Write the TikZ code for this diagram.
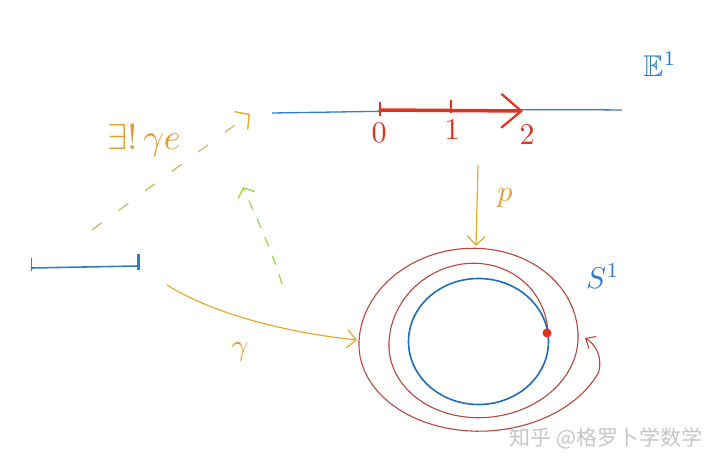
\documentclass[tikz,border=0pt]{standalone}
\usepackage{amsmath,amssymb}
\usepackage{xcolor}
\usepackage{fontspec}
\newfontfamily\cjkfont{Noto Sans CJK SC}
\usepackage{tikz}
\usetikzlibrary{arrows.meta}
\definecolor{lineblue}{HTML}{2F7DCB}
\definecolor{circblue}{HTML}{1F6DB8}
\definecolor{liftred}{HTML}{E3311F}
\definecolor{loopred}{HTML}{B8463C}
\definecolor{amber}{HTML}{E9A92A}
\definecolor{ochre}{HTML}{E59B32}
\definecolor{olive}{HTML}{CDBB62}
\definecolor{lime}{HTML}{9ED64C}
\definecolor{wmgray}{HTML}{C6C6C6}
\tikzset{
  eline/.style={draw=lineblue, line width=1.3pt},
  seg/.style={draw=lineblue, line width=1.6pt},
  lift/.style={draw=liftred, line width=3.5pt, line cap=round},
  notch/.style={draw=liftred, line width=2.4pt},
  spiral/.style={draw=loopred, line width=1.1pt},
  circ/.style={draw=circblue, line width=1.6pt},
  maparrow/.style={draw=amber, line width=1.2pt, -{Straight Barb[length=9pt,width=18pt]}},
  guess/.style={draw=olive, line width=1.3pt, dash pattern=on 12pt off 21pt},
  hint/.style={draw=lime, line width=1.3pt, dash pattern=on 10pt off 10pt},
  num/.style={text=liftred, scale=3},
  lbl/.style={text=ochre, scale=3},
  blbl/.style={text=lineblue, scale=3},
  wmark/.style={text=wmgray, font=\fontsize{21}{21}\selectfont\cjkfont},
  dot/.style={circle, fill=liftred, inner sep=0pt, minimum size=9pt}
}

\begin{document}
\begin{tikzpicture}[x=1pt, y=-1pt]
    \useasboundingbox (0,0) rectangle (720,468);

    % --- TOP: the line E^1 and the lifted path ---
    \coordinate (eW) at (272,113);
    \coordinate (eE) at (622,110);
    \draw[eline] (eW) .. controls (400,111) and (520,109) .. (eE);

    \coordinate (zero) at (380,110);
    \coordinate (one) at (451,110);
    \coordinate (two) at (523,111);
    \draw[notch] (zero) ++(0,-8) -- ++(0,14);
    \draw[notch] (one) ++(0,-10) -- ++(0,13);
    \draw[lift, -{Straight Barb[length=20pt,width=34pt,line width=2.2pt]}] (zero) -- (two);
    \node[num] (n0) at (379,133) {0};
    \node[num] (n1) at (452,130) {1};
    \node[num] (n2) at (527,135) {2};
    \node[blbl] (E) at (660,64) {$\mathbb{E}^1$};

    % --- CIRCLE S^1 and the winding loop ---
    \draw[circ] (478.5,341.5) ellipse [x radius=70pt, y radius=63pt];
    \coordinate (loopend) at (585,338);
    \draw[spiral, -{Straight Barb[length=8pt,width=14pt]}]
        plot[domain=6:700, samples=140, variable=\t]
            ({476+(72+\t/12)*cos(\t)}, {341-(74+\t/24)*sin(\t)*(sin(\t)>0 ? 1 : 0.9)})
        .. controls (603,356) and (595,344) .. (loopend);
    \node[dot] (liftpt) at (547,333) {};
    \node[blbl] (S) at (603,276) {$S^1$};

    % --- LEFT: the interval ---
    \coordinate (segL) at (31,268);
    \coordinate (segR) at (138,266);
    \draw[seg] (segL) -- (segR);
    \draw[seg, line width=1pt] (segL) ++(0,-10) -- ++(0,13);
    \draw[seg, line width=3pt] (segR) ++(0,-12) -- ++(0,16);

    % --- MAPS ---
    \coordinate (gS) at (167,285);
    \coordinate (gE) at (357,340);
    \draw[maparrow] (gS) .. controls (215,315) and (290,333) .. (gE);
    \node[lbl] (gamma) at (240,352) {$\gamma$};

    \coordinate (pS) at (478,165);
    \coordinate (pE) at (476,246);
    \draw[maparrow] (pS) -- (pE);
    \node[lbl] (plbl) at (505,198) {$p$};

    \coordinate (dS) at (92,230);
    \coordinate (dE) at (250,114);
    \draw[guess, -{Straight Barb[length=10pt,width=22pt,line width=1.4pt,color=amber]}] (dS) -- (dE);
    \node[lbl, scale=1.2] (uniq) at (144,140) {$\exists!\,\gamma e$};

    \coordinate (hS) at (282,284);
    \coordinate (hE) at (243,187);
    \draw[hint, -{Straight Barb[length=8pt,width=18pt]}] (hS) .. controls (272,250) and (255,215) .. (hE);

    \node[wmark] (wm) at (606,438) {知乎 @格罗卜学数学};
\end{tikzpicture}
\end{document}
